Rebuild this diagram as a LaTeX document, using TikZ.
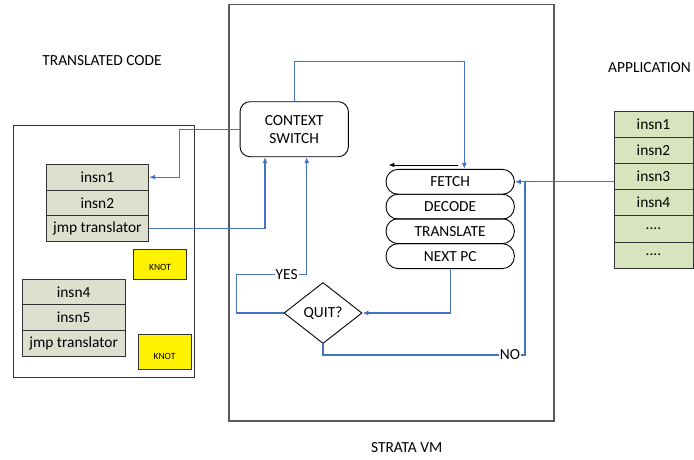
\documentclass[tikz,border=0pt]{standalone}
\usepackage{fontspec}
\setmainfont{Carlito}
\usetikzlibrary{arrows.meta,shapes.geometric,calc}
\definecolor{flowblue}{RGB}{68,114,196}
\definecolor{tcfill}{RGB}{221,224,206}
\definecolor{appfill}{RGB}{215,228,189}
\definecolor{edge}{RGB}{50,50,50}
\definecolor{vmedge}{RGB}{90,90,90}
\tikzset{
  txt/.style={font=\fontsize{15.4}{18.3}\selectfont},
  cell/.style={draw=edge, line width=0.9pt, fill=tcfill, minimum width=102.7pt, minimum height=25.7pt, inner sep=0pt, txt},
  appcell/.style={draw=edge, line width=0.9pt, fill=appfill, minimum width=79pt, minimum height=26.2pt, inner sep=0pt, txt},
  knotbox/.style={draw=edge, line width=0.9pt, fill=yellow, inner sep=0pt, font=\fontsize{9.5}{11}\selectfont},
  stage/.style={draw=black, line width=0.9pt, rounded corners=12pt, minimum width=128.3pt, minimum height=24.9pt, inner sep=0pt, txt},
  flow/.style={draw=flowblue, line width=1.1pt},
  flowarrow/.style={flow, -{Latex[length=6pt,width=5pt]}},
  lbl/.style={fill=white, inner sep=1pt, txt},
}
\begin{document}
\begin{tikzpicture}[x=1pt,y=-1pt]
\useasboundingbox (0,0) rectangle (694,459);

% outer boxes
\node[draw=edge, line width=0.9pt, minimum width=180.7pt, minimum height=252pt, inner sep=0pt] (tc) at (103.65,251) {};
\node[draw=vmedge, line width=1.5pt, minimum width=325pt, minimum height=416.3pt, inner sep=0pt] (vm) at (391.5,212.85) {};

% labels
\node[txt] (ltc) at (102,61) {TRANSLATED CODE};
\node[txt] (lapp) at (649.5,68) {APPLICATION};
\node[txt] (lvm) at (406.7,447.5) {STRATA VM};

% translated code cells
\node[cell] (t1) at (97.35,177.15) {insn1};
\node[cell] (t2) at (97.35,202.85) {insn2};
\node[cell] (t3) at (97.35,228.55) {jmp translator};
\node[cell] (t4) at (73.65,292) {insn4};
\node[cell] (t5) at (73.65,317.7) {insn5};
\node[cell] (t6) at (73.65,343.4) {jmp translator};

\node[knotbox, minimum width=53.4pt, minimum height=30.3pt] (k1) at (160,264.15) {};
\node[font=\fontsize{9.5}{11}\selectfont, inner sep=0pt] (k1t) at (160,267.5) {KNOT};
\node[knotbox, minimum width=53pt, minimum height=35.3pt] (k2) at (164.5,351.65) {};
\node[font=\fontsize{9.5}{11}\selectfont, inner sep=0pt] (k2t) at (164.5,356.5) {KNOT};

% application cells
\node[appcell] (a1) at (653.5,124.1) {insn1};
\node[appcell] (a2) at (653.5,150.3) {insn2};
\node[appcell] (a3) at (653.5,176.5) {insn3};
\node[appcell] (a4) at (653.5,202.7) {insn4};
\node[appcell] (a5) at (653.5,228.9) {....};
\node[appcell] (a6) at (653.5,255.1) {....};

% VM internals
\node[draw=black, line width=0.9pt, rounded corners=10pt, minimum width=108.3pt, minimum height=55pt, inner sep=0pt, align=center, txt] (cs) at (294.2,129.2) {CONTEXT\\SWITCH};
\node[stage] (fe) at (450.2,181.8) {FETCH};
\node[stage] (de) at (450.2,206.65) {DECODE};
\node[stage] (tr) at (450.2,231.15) {TRANSLATE};
\node[stage] (np) at (450.2,256.15) {NEXT PC};
\node[draw=black, line width=0.9pt, diamond, aspect=1.28, minimum width=78pt, minimum height=61pt, inner sep=0pt, txt] (q) at (323,313) {QUIT?};

% connectors
\coordinate (c1) at (179.3,177.15);
\draw[flowarrow] (cs.west) -| (c1) -- (t1.east);
\draw[flowarrow] (t3.east) -| ([xshift=-29.2pt]cs.south);
\coordinate (ctop) at (464.3,61.7);
\draw[flowarrow] (cs.north) |- (ctop) -- ([xshift=14.1pt]fe.north);
\coordinate (ba1) at (458,165);
\coordinate (ba2) at (388.3,165);
\draw[black, line width=1pt, -{Latex[length=6pt,width=4.5pt]}] (ba1) -- (ba2);
\draw[flowarrow] (a3.west |- fe.east) -- (fe.east);
\draw[flowarrow] (np.south) |- (q.east);
\coordinate (y1) at (236.7,274.3);
\coordinate (y2) at (306.7,274.3);
\draw[flowarrow] (q.west) -| (y1) -- node[lbl, pos=0.714] {YES} (y2) -- ([xshift=12.5pt]cs.south);
\coordinate (n1) at (525,355);
\draw[flow] (q.south) -- (q.south |- n1) -- node[lbl, pos=0.926] {NO} (n1) -- (n1 |- fe.east);
\end{tikzpicture}
\end{document}
